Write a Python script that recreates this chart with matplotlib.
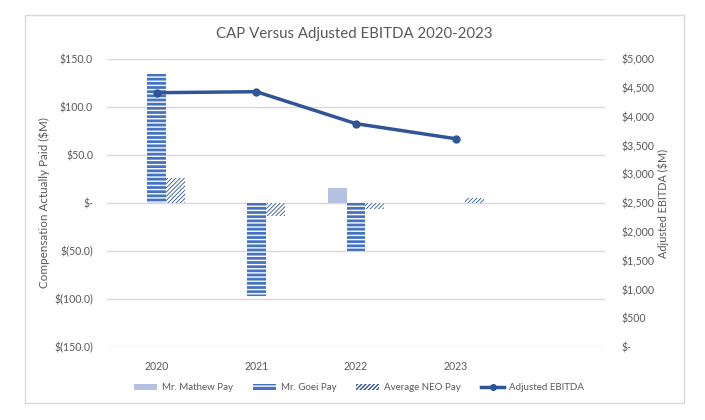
import matplotlib
matplotlib.use("Agg")
import matplotlib.pyplot as plt
from matplotlib.patches import Rectangle
from matplotlib.lines import Line2D
import numpy as np

years = ["2020", "2021", "2022", "2023", ""]
mathew_pay = [np.nan, np.nan, 16.0, np.nan]
goei_pay = [134.5, -96.5, -50.5, np.nan]
avg_neo_pay = [26.5, -14.0, -6.5, 5.0]
ebitda = [4415, 4432, 3877, 3616]

left_ticks = [-150, -100, -50, 0, 50, 100, 150]
right_ticks = list(range(0, 5001, 500))

def fmt_left(v):
    if v == 0:
        return "$-"
    if v < 0:
        return "$(%.1f)" % abs(v)
    return "$%.1f" % v

def fmt_right(v):
    if v == 0:
        return "$-"
    return "${:,.0f}".format(v)

plt.rcParams['font.family'] = ['Lato', 'DejaVu Sans']

TXT = "#595959"
LAV = "#B4C1E2"
BLUE = "#4472C4"
DBLUE = "#2F5597"

fig = plt.figure(figsize=(7.05, 4.2), dpi=100)
fig.patches.append(Rectangle((25/705, 1-403/420), (684-25)/705, (403-15)/420,
                             transform=fig.transFigure, fill=False,
                             edgecolor="#D9D9D9", linewidth=1.0))

ax = fig.add_axes([107/705, 1-347/420, (605-107)/705, (347-59)/420])
ax2 = ax.twinx()

x = np.arange(len(years))
n = 4
w = 0.19

ax.bar(x[:n] - w, mathew_pay, width=w, color=LAV, linewidth=0, zorder=2)
with plt.rc_context({'hatch.linewidth': 1.0}):
    ax.bar(x[:n], goei_pay, width=w, facecolor=BLUE, edgecolor="white",
           hatch="----", linewidth=0, zorder=2)
with plt.rc_context({'hatch.linewidth': 0.6}):
    ax.bar(x[:n] + w, avg_neo_pay, width=w, facecolor="white", edgecolor=DBLUE,
           hatch="////////", linewidth=0, zorder=2)

ax.set_xlim(-0.5, len(years) - 0.5)
ax.set_ylim(-150, 150)
ax.set_yticks(left_ticks)
ax.set_yticklabels([fmt_left(v) for v in left_ticks])
ax.set_xticks(x[:n])
ax.set_xticklabels(years[:n])
ax.grid(axis='y', color="#D9D9D9", linewidth=1.0, zorder=0)
ax.set_axisbelow(True)
for s in ax.spines.values():
    s.set_visible(False)
ax.tick_params(axis='both', length=0, labelsize=7.6, colors=TXT)
ax.tick_params(axis='x', pad=10)
ax.tick_params(axis='y', pad=10)
ax.set_ylabel("Compensation Actually Paid ($M)", fontsize=8.4, color=TXT, labelpad=3)

ax2.plot(x[:n], ebitda, color=DBLUE, linewidth=2.5, marker='o', markersize=5, zorder=3)
ax2.set_ylim(0, 5000)
ax2.set_yticks(right_ticks)
ax2.set_yticklabels([fmt_right(v) for v in right_ticks])
for s in ax2.spines.values():
    s.set_visible(False)
ax2.tick_params(axis='y', length=0, labelsize=7.6, colors=TXT, pad=12)
ax2.set_ylabel("Adjusted EBITDA ($M)", fontsize=7.8, color=TXT, labelpad=2)

fig.text(354/705, 1-34/420, "CAP Versus Adjusted EBITDA 2020-2023", ha='center', va='center',
         fontsize=10.8, color="#595959")

h1 = Rectangle((0, 0), 1, 1, facecolor=LAV, linewidth=0)
with plt.rc_context({'hatch.linewidth': 1.0}):
    h2 = Rectangle((0, 0), 1, 1, facecolor=BLUE, edgecolor="white", hatch="---", linewidth=0)
with plt.rc_context({'hatch.linewidth': 0.6}):
    h3 = Rectangle((0, 0), 1, 1, facecolor="white", edgecolor=DBLUE, hatch="////////", linewidth=0)
h4 = Line2D([], [], color=DBLUE, linewidth=2.5, marker='o', markersize=4)
fig.legend([h1, h2, h3, h4], ["Mr. Mathew Pay", "Mr. Goei Pay", "Average NEO Pay", "Adjusted EBITDA"],
           loc='center', bbox_to_anchor=(359/705, 1-388/420), ncol=4, frameon=False,
           fontsize=7.0, handlelength=2.37, handleheight=0.55, columnspacing=2.05, handletextpad=0.5,
           labelcolor=TXT)

fig.savefig("out.png", dpi=100)
